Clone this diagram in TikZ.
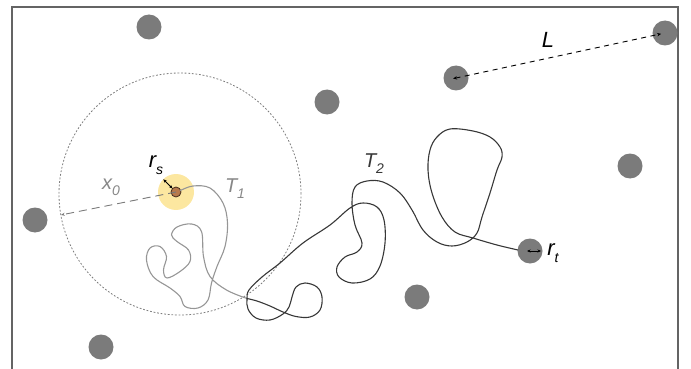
\documentclass[tikz,border=0pt]{standalone}
\usepackage{fontspec}
\setmainfont{Liberation Sans}
\usetikzlibrary{arrows.meta}
\definecolor{dotgray}{RGB}{123,123,123}
\definecolor{glowyel}{RGB}{252,231,160}
\definecolor{srcbrown}{RGB}{184,122,76}
\definecolor{srcedge}{RGB}{70,45,30}
\definecolor{tonegray}{RGB}{150,150,150}
\definecolor{ttwodark}{RGB}{55,55,55}
\definecolor{rangegray}{RGB}{125,125,125}
\definecolor{labgray}{RGB}{135,135,135}
\definecolor{framegray}{RGB}{100,100,100}
\newcommand\lsub[1]{\raisebox{-0.55ex}{\fontsize{14}{14}\selectfont #1}}
\tikzset{
  target/.style={circle, fill=dotgray, minimum size=25pt, inner sep=0pt, outer sep=0pt},
  lab/.style={font=\fontsize{20}{20}\selectfont\itshape, inner sep=0pt},
  biglab/.style={font=\fontsize{22}{22}\selectfont\itshape, inner sep=0pt},
  tinyarrow/.style={{Stealth[length=3.5pt,width=3pt]}-{Stealth[length=3.5pt,width=3pt]}, line width=0.8pt},
}
\begin{document}
\begin{tikzpicture}[x=1pt,y=-1pt]
\useasboundingbox (0,0) rectangle (691,369);
% frame
\draw[framegray, line width=1.3pt] (12,372) -- (12,7) -- (678,7) -- (678,372);
% targets
\node[target] (d1) at (149,27) {};
\node[target] (d2) at (456,78) {};
\node[target] (d3) at (665,33) {};
\node[target] (d4) at (327,102) {};
\node[target] (d5) at (630,166) {};
\node[target] (d6) at (35,220) {};
\node[target] (rt) at (530,251) {};
\node[target] (d8) at (417,297) {};
\node[target] (d9) at (101,347) {};
% range circle
\node[circle, draw=rangegray, line width=0.8pt, dash pattern=on 1.8pt off 1.8pt, minimum size=242pt, inner sep=0pt, outer sep=0pt] (range) at (180,194) {};
% source
\node[circle, fill=glowyel, minimum size=36pt, inner sep=0pt, outer sep=0pt] (src) at (176,192) {};
\node[circle, fill=srcbrown, draw=srcedge, line width=0.8pt, minimum size=10pt, inner sep=0pt, outer sep=0pt] (s) at (176,192) {};
% x0
\draw[labgray!90!black, line width=0.9pt, dash pattern=on 8pt off 5pt, -{Stealth[length=4pt,width=3pt]}] (s.center) -- (range.190);
% rs arrow
\draw[tinyarrow, black] (src.135) -- (s.135);
% T1
\draw[tonegray, line width=1.1pt] plot[smooth, tension=0.6] coordinates {
(180,190.7) (193,186) (210,188) (223,203) (227.5,223) (225,246.5) (217,266.5) (211.5,283) (208,300) (198,308) (185,306.5) (180,296.5) (170,288) (153,276.5) (146.5,260) (150,248) (160,246.5) (166.5,256.5) (163.5,270) (167,278) (180,271.5) (190,261.5) (188.5,250) (177,241.5) (171.5,235) (177,227) (191.5,224) (201.5,231.5) (203.5,256.5) (210,276.5) (226.5,290) (247,298.5)};
% T2
\draw[ttwodark, line width=1.1pt] plot[smooth, tension=0.6] coordinates {
(247,298.5) (257,301) (270,306) (283,312) (296,316.5) (310,317) (320,310) (322,297) (317,287) (305,283) (296,287) (292,297) (289,307) (283,314) (270,320) (256,318) (248,309) (247,299) (249,290) (262,277) (280,263) (303,243) (330,225) (350,208) (363,203) (377,207) (384,220) (385,243) (380,266) (370,279) (352,283) (339,277) (337,267) (345,257) (357,252) (362,243) (355,225) (352,203) (355,187) (367,181) (383,182) (400,193) (412,210) (423,230) (437,242) (452,246) (467,242) (477,233) (482,217) (490,193) (497,170) (502,157) (500,147) (490,137) (473,131) (450,129) (437,137) (430,150) (428,170) (432,193) (442,217) (455,232) (473,238) (497,245) (518,250)};
% L arrow
\draw[black, line width=0.9pt, dash pattern=on 5pt off 4.5pt, {Stealth[length=4pt,width=3.5pt]}-{Stealth[length=4pt,width=3.5pt]}, shorten <=-3pt, shorten >=4pt] (d2.center) -- (d3.center);
% rt arrow
\draw[tinyarrow] ([xshift=-3pt]rt.center) -- ([xshift=-1.5pt]rt.east);
% labels
\node[biglab] (lL) at (548,40) {L};
\node[lab, text=ttwodark] (lT2) at (374,164) {T\lsub{2}};
\node[lab, text=labgray] (lT1) at (235,189) {T\lsub{1}};
\node[lab, text=labgray] (lx0) at (111,187) {x\lsub{0}};
\node[biglab] (lrs) at (156,165) {r\lsub{s}};
\node[biglab] (lrt) at (553,253) {r\lsub{t}};
\end{tikzpicture}
\end{document}
